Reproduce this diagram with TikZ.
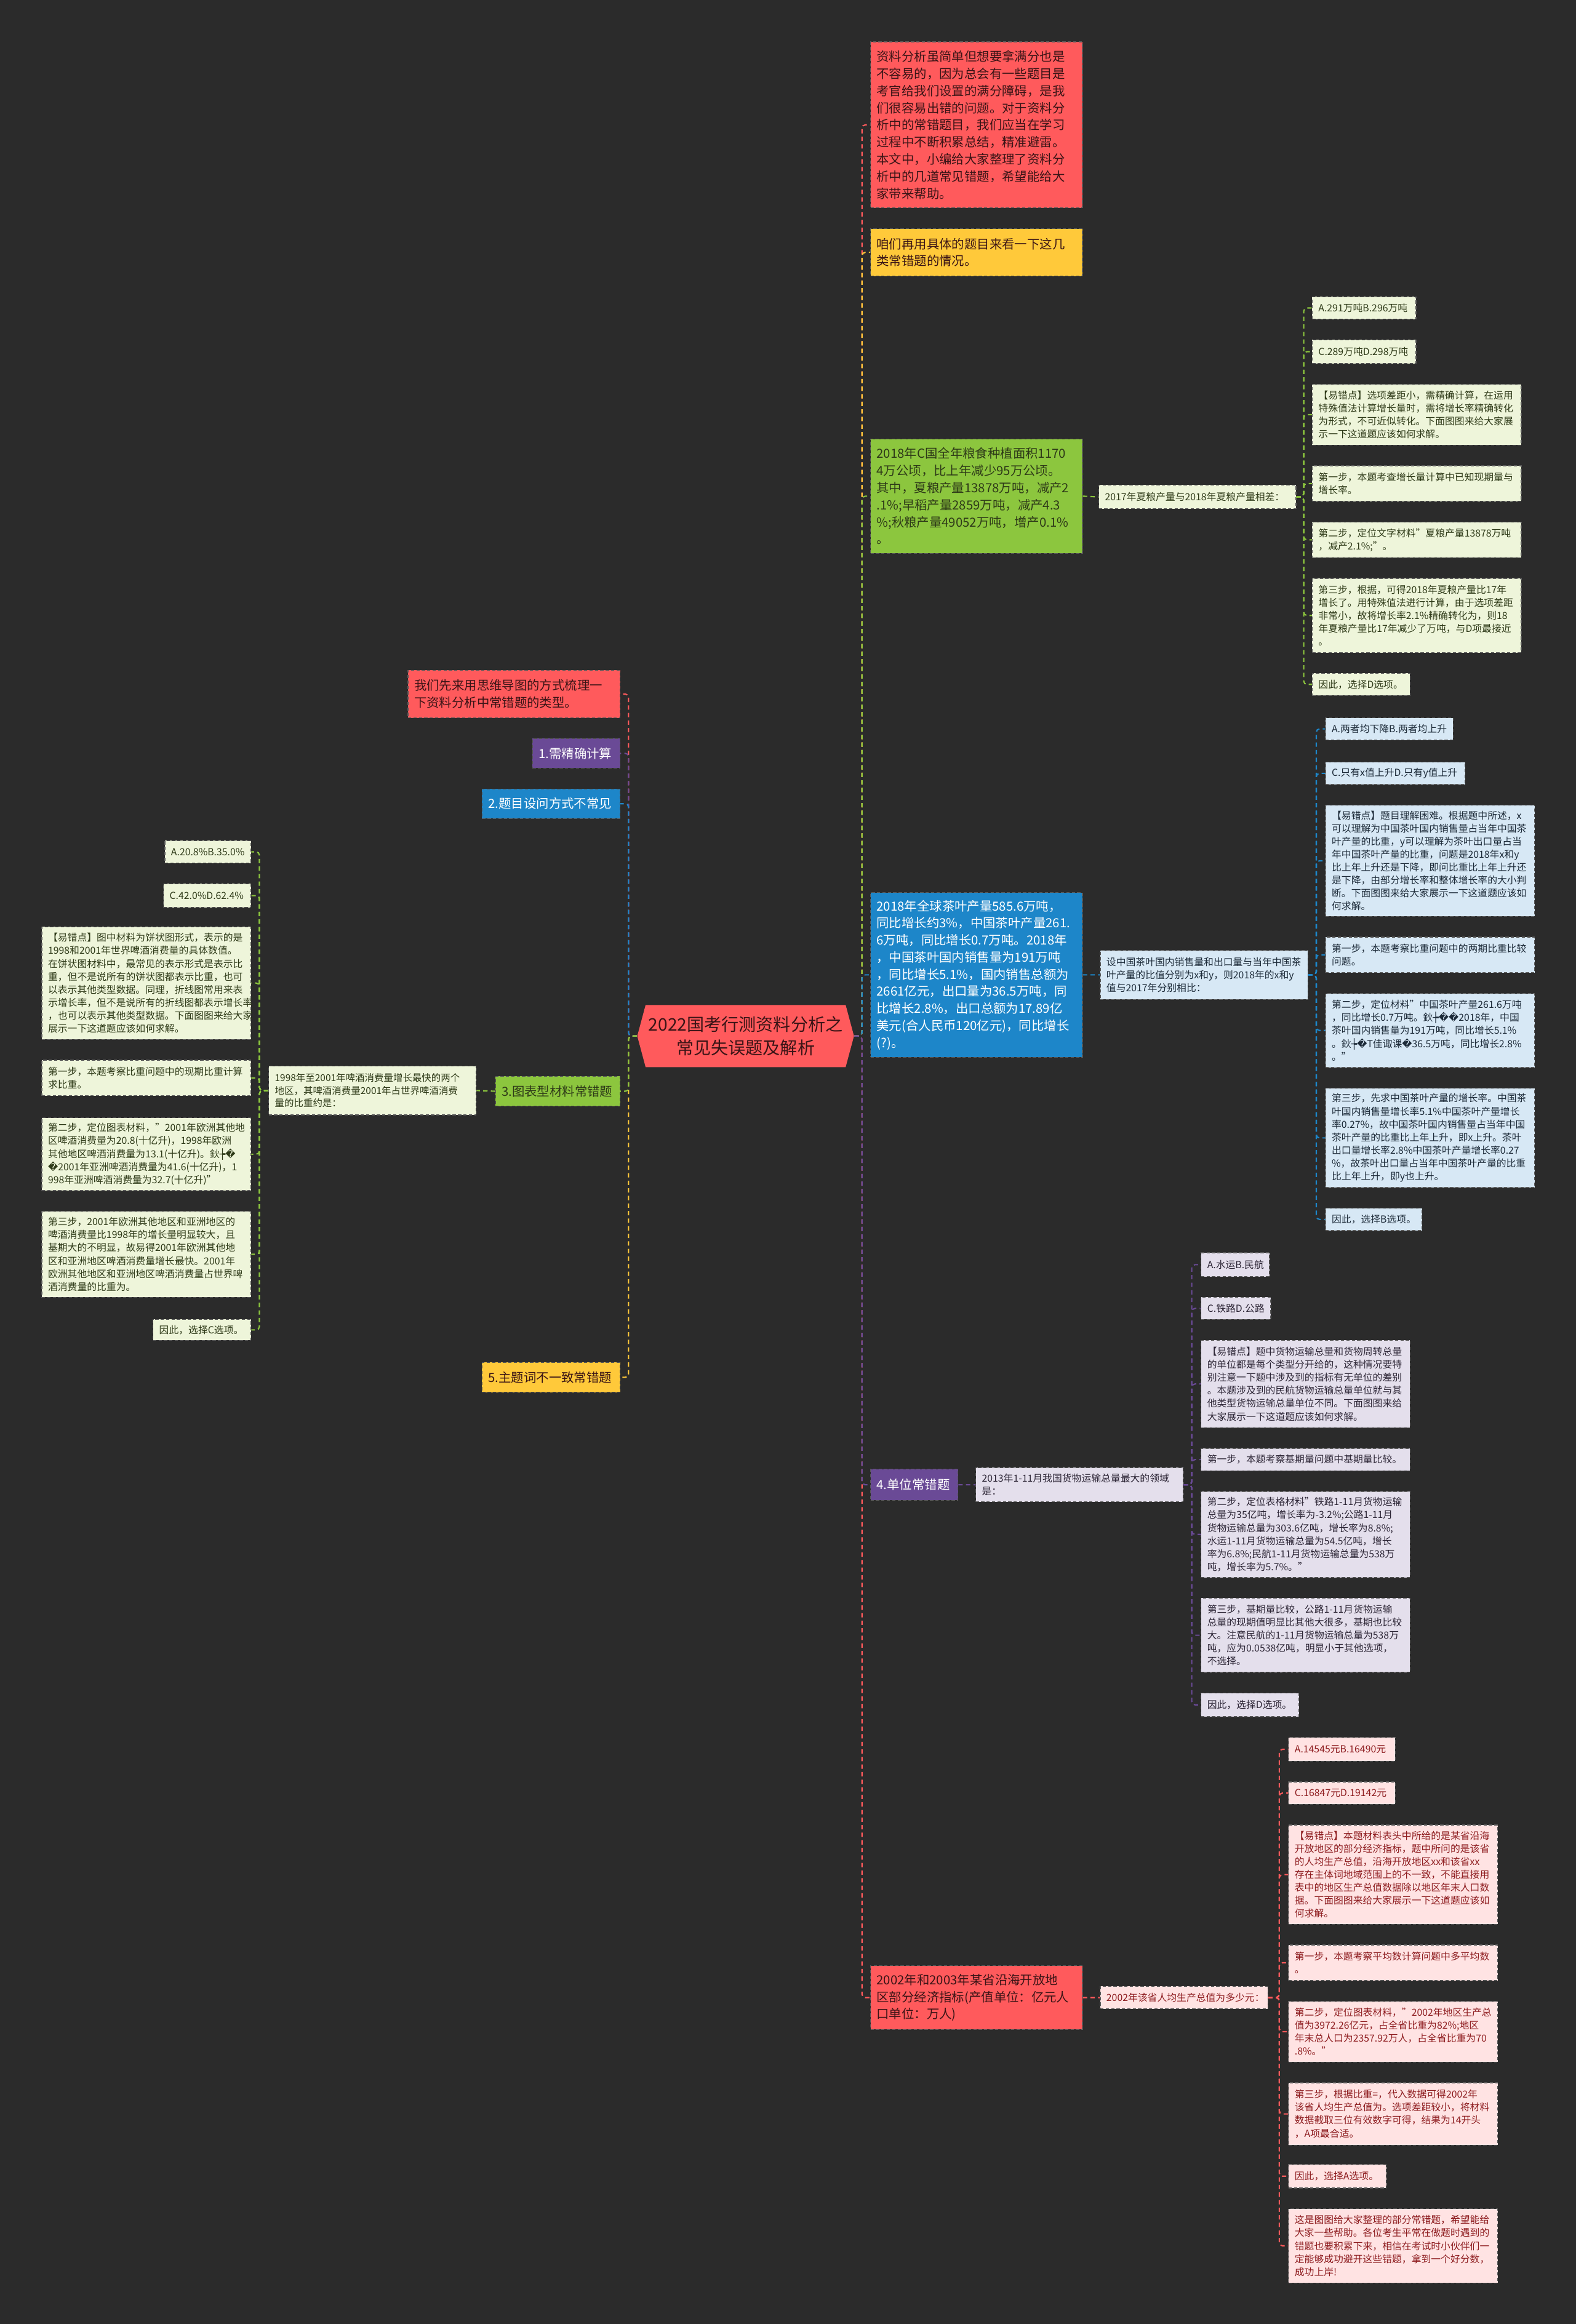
\documentclass[tikz,border=0pt]{standalone}
\usepackage{fontspec}
\setmainfont{Noto Sans CJK SC}
\newfontfamily\dejavu{DejaVu Sans}
\usetikzlibrary{shapes.symbols}
\definecolor{bgc}{HTML}{2B2B2B}
\definecolor{mred}{HTML}{FF5A5C}
\definecolor{myel}{HTML}{FFC93A}
\definecolor{mgrn}{HTML}{8CC63E}
\definecolor{mblu}{HTML}{1D86C9}
\definecolor{mpur}{HTML}{6A4A96}
\definecolor{lgrn}{HTML}{EEF5DA}
\definecolor{lblu}{HTML}{D7E8F5}
\definecolor{lpur}{HTML}{E4DFEC}
\definecolor{lred}{HTML}{FFE3E3}
\definecolor{tgrn}{HTML}{2E3A18}
\definecolor{tblu}{HTML}{1C2A38}
\definecolor{tpur}{HTML}{2C2535}
\definecolor{tred}{HTML}{8E1C1F}
\definecolor{tdrk}{HTML}{3A1416}
\newcommand\rpl{{\dejavu\symbol{"FFFD}}}
\newcommand\bxc{{\dejavu ┾}}

\begin{document}
\begin{tikzpicture}[x=0.02408cm,y=-0.02408cm,
    sz/.code 2 args={\pgfmathsetmacro\bxw{#1*0.02408-0.2}\pgfmathsetmacro\bxh{#2*0.02408}%
      \edef\bxtmp{\noexpand\pgfkeysalso{text width=\bxw cm,minimum height=\bxh cm}}\bxtmp}]
    \tikzstyle{bx}=[draw=black!65,line width=0.35pt,dash pattern=on 1.5pt off 1pt,anchor=north west,inner xsep=0.1cm,inner ysep=0pt,align=left]
    \tikzstyle{big}=[bx,font=\fontsize{5.8}{7.9}\selectfont]
    \tikzstyle{sm}=[bx,font=\fontsize{4.5}{6}\selectfont]
    \tikzstyle{ln}=[line width=0.6pt,dash pattern=on 2pt off 1.5pt,rounded corners=1.5pt]
    \tikzstyle{rl}=[ln,draw=mred]
    \tikzstyle{yl}=[ln,draw=myel]
    \tikzstyle{gl}=[ln,draw=mgrn]
    \tikzstyle{bl}=[ln,draw=mblu]
    \tikzstyle{pl}=[ln,draw=mpur]

    \fill[bgc] (0,0) rectangle (1063,1568);

    % centre
    \node[signal,signal to=east and west,signal pointer angle=150,fill=mred,text=tdrk,
      minimum width=3.52cm,minimum height=1.01cm,inner sep=0pt,align=center,
      font=\fontsize{8}{11}\selectfont] (c) at (503,699) {2022国考行测资料分析之\\常见失误题及解析};

    % right branches
    \node[big,fill=mred,text=tdrk,sz={143}{112}] (R0) at (587,28) {资料分析虽简单但想要拿满分也是\\不容易的，因为总会有一些题目是\\考官给我们设置的满分障碍，是我\\们很容易出错的问题。对于资料分\\析中的常错题目，我们应当在学习\\过程中不断积累总结，精准避雷。\\本文中，小编给大家整理了资料分\\析中的几道常见错题，希望能给大\\家带来帮助。};
    \node[big,fill=myel,text=tdrk,sz={143}{32}] (R1) at (587,154) {咱们再用具体的题目来看一下这几\\类常错题的情况。};
    \node[big,fill=mgrn,text=tgrn,sz={143}{77}] (R2) at (587,296) {2018年C国全年粮食种植面积1170\\4万公顷，比上年减少95万公顷。\\其中，夏粮产量13878万吨，减产2\\.1\%;早稻产量2859万吨，减产4.3\\\%;秋粮产量49052万吨，增产0.1\%\\。};
    \node[big,fill=mblu,text=white,sz={143}{111}] (R3) at (587,602) {2018年全球茶叶产量585.6万吨，\\同比增长约3\%，中国茶叶产量261.\\6万吨，同比增长0.7万吨。2018年\\，中国茶叶国内销售量为191万吨\\，同比增长5.1\%，国内销售总额为\\2661亿元，出口量为36.5万吨，同\\比增长2.8\%，出口总额为17.89亿\\美元(合人民币120亿元)，同比增长\\(?)。};
    \node[big,fill=mpur,text=white,sz={59}{21}] (R4) at (587,991) {4.单位常错题};
    \node[big,fill=mred,text=tdrk,sz={143}{43}] (R5) at (587,1326) {2002年和2003年某省沿海开放地\\区部分经济指标(产值单位：亿元人\\口单位：万人)};

    % green question
    \node[sm,fill=lgrn,text=tgrn,sz={133}{16}] (R2c) at (741,327) {2017年夏粮产量与2018年夏粮产量相差：};
    \node[sm,fill=lgrn,text=tgrn,sz={70}{15}] (g1) at (885,200) {A.291万吨B.296万吨};
    \node[sm,fill=lgrn,text=tgrn,sz={70}{16}] (g2) at (885,229) {C.289万吨D.298万吨};
    \node[sm,fill=lgrn,text=tgrn,sz={141}{41}] (g3) at (885,259) {【易错点】选项差距小，需精确计算，在运用\\特殊值法计算增长量时，需将增长率精确转化\\为形式，不可近似转化。下面图图来给大家展\\示一下这道题应该如何求解。};
    \node[sm,fill=lgrn,text=tgrn,sz={141}{24}] (g4) at (885,314) {第一步，本题考查增长量计算中已知现期量与\\增长率。};
    \node[sm,fill=lgrn,text=tgrn,sz={141}{24}] (g5) at (885,352) {第二步，定位文字材料"夏粮产量13878万吨\\，减产2.1\%;"。};
    \node[sm,fill=lgrn,text=tgrn,sz={141}{50}] (g6) at (885,390) {第三步，根据，可得2018年夏粮产量比17年\\增长了。用特殊值法进行计算，由于选项差距\\非常小，故将增长率2.1\%精确转化为，则18\\年夏粮产量比17年减少了万吨，与D项最接近\\。};
    \node[sm,fill=lgrn,text=tgrn,sz={66}{15}] (g7) at (885,454) {因此，选择D选项。};

    % blue question
    \node[sm,fill=lblu,text=tblu,sz={140}{33}] (R3c) at (742,641) {设中国茶叶国内销售量和出口量与当年中国茶\\叶产量的比值分别为x和y，则2018年的x和y\\值与2017年分别相比：};
    \node[sm,fill=lblu,text=tblu,sz={86}{15}] (b1) at (894,484) {A.两者均下降B.两者均上升};
    \node[sm,fill=lblu,text=tblu,sz={94}{15}] (b2) at (894,514) {C.只有x值上升D.只有y值上升};
    \node[sm,fill=lblu,text=tblu,sz={141}{75}] (b3) at (894,543) {【易错点】题目理解困难。根据题中所述，x\\可以理解为中国茶叶国内销售量占当年中国茶\\叶产量的比重，y可以理解为茶叶出口量占当\\年中国茶叶产量的比重，问题是2018年x和y\\比上年上升还是下降，即问比重比上年上升还\\是下降，由部分增长率和整体增长率的大小判\\断。下面图图来给大家展示一下这道题应该如\\何求解。};
    \node[sm,fill=lblu,text=tblu,sz={141}{24}] (b4) at (894,632) {第一步，本题考察比重问题中的两期比重比较\\问题。};
    \node[sm,fill=lblu,text=tblu,sz={141}{50}] (b5) at (894,670) {第二步，定位材料"中国茶叶产量261.6万吨\\，同比增长0.7万吨。鈥\bxc\rpl\rpl2018年，中国\\茶叶国内销售量为191万吨，同比增长5.1\%\\。鈥\bxc\rpl T佳诹课\rpl 36.5万吨，同比增长2.8\%\\。"};
    \node[sm,fill=lblu,text=tblu,sz={141}{67}] (b6) at (894,734) {第三步，先求中国茶叶产量的增长率。中国茶\\叶国内销售量增长率5.1\%中国茶叶产量增长\\率0.27\%，故中国茶叶国内销售量占当年中国\\茶叶产量的比重比上年上升，即x上升。茶叶\\出口量增长率2.8\%中国茶叶产量增长率0.27\\\%，故茶叶出口量占当年中国茶叶产量的比重\\比上年上升，即y也上升。};
    \node[sm,fill=lblu,text=tblu,sz={65}{15}] (b7) at (894,815) {因此，选择B选项。};

    % purple question
    \node[sm,fill=lpur,text=tpur,sz={140}{23}] (R4c) at (658,990) {2013年1-11月我国货物运输总量最大的领域\\是：};
    \node[sm,fill=lpur,text=tpur,sz={46}{16}] (p1) at (810,845) {A.水运B.民航};
    \node[sm,fill=lpur,text=tpur,sz={47}{15}] (p2) at (810,875) {C.铁路D.公路};
    \node[sm,fill=lpur,text=tpur,sz={141}{59}] (p3) at (810,904) {【易错点】题中货物运输总量和货物周转总量\\的单位都是每个类型分开给的，这种情况要特\\别注意一下题中涉及到的指标有无单位的差别\\。本题涉及到的民航货物运输总量单位就与其\\他类型货物运输总量单位不同。下面图图来给\\大家展示一下这道题应该如何求解。};
    \node[sm,fill=lpur,text=tpur,sz={141}{15}] (p4) at (810,977) {第一步，本题考察基期量问题中基期量比较。};
    \node[sm,fill=lpur,text=tpur,sz={141}{58}] (p5) at (810,1006) {第二步，定位表格材料"铁路1-11月货物运输\\总量为35亿吨，增长率为-3.2\%;公路1-11月\\货物运输总量为303.6亿吨，增长率为8.8\%;\\水运1-11月货物运输总量为54.5亿吨，增长\\率为6.8\%;民航1-11月货物运输总量为538万\\吨，增长率为5.7\%。"};
    \node[sm,fill=lpur,text=tpur,sz={141}{50}] (p6) at (810,1078) {第三步，基期量比较，公路1-11月货物运输\\总量的现期值明显比其他大很多，基期也比较\\大。注意民航的1-11月货物运输总量为538万\\吨，应为0.0538亿吨，明显小于其他选项，\\不选择。};
    \node[sm,fill=lpur,text=tpur,sz={66}{16}] (p7) at (810,1142) {因此，选择D选项。};

    % red question
    \node[sm,fill=lred,text=tred,sz={113}{15}] (R5c) at (742,1340) {2002年该省人均生产总值为多少元：};
    \node[sm,fill=lred,text=tred,sz={72}{16}] (r1) at (869,1172) {A.14545元B.16490元};
    \node[sm,fill=lred,text=tred,sz={72}{15}] (r2) at (869,1202) {C.16847元D.19142元};
    \node[sm,fill=lred,text=tred,sz={141}{67}] (r3) at (869,1231) {【易错点】本题材料表头中所给的是某省沿海\\开放地区的部分经济指标，题中所问的是该省\\的人均生产总值，沿海开放地区xx和该省xx\\存在主体词地域范围上的不一致，不能直接用\\表中的地区生产总值数据除以地区年末人口数\\据。下面图图来给大家展示一下这道题应该如\\何求解。};
    \node[sm,fill=lred,text=tred,sz={141}{24}] (r4) at (869,1312) {第一步，本题考察平均数计算问题中多平均数\\。};
    \node[sm,fill=lred,text=tred,sz={141}{41}] (r5) at (869,1350) {第二步，定位图表材料，"2002年地区生产总\\值为3972.26亿元，占全省比重为82\%;地区\\年末总人口为2357.92万人，占全省比重为70\\.8\%。"};
    \node[sm,fill=lred,text=tred,sz={141}{42}] (r6) at (869,1405) {第三步，根据比重=，代入数据可得2002年\\该省人均生产总值为。选项差距较小，将材料\\数据截取三位有效数字可得，结果为14开头\\，A项最合适。};
    \node[sm,fill=lred,text=tred,sz={66}{16}] (r7) at (869,1460) {因此，选择A选项。};
    \node[sm,fill=lred,text=tred,sz={141}{50}] (r8) at (869,1490) {这是图图给大家整理的部分常错题，希望能给\\大家一些帮助。各位考生平常在做题时遇到的\\错题也要积累下来，相信在考试时小伙伴们一\\定能够成功避开这些错题，拿到一个好分数，\\成功上岸!};

    % left branches
    \node[big,fill=mred,text=tdrk,sz={143}{32}] (L0) at (275,452) {我们先来用思维导图的方式梳理一\\下资料分析中常错题的类型。};
    \node[big,fill=mpur,text=white,sz={59}{20}] (L1) at (359,498) {1.需精确计算};
    \node[big,fill=mblu,text=white,sz={93}{20}] (L2) at (325,532) {2.题目设问方式不常见};
    \node[big,fill=mgrn,text=tgrn,sz={84}{20}] (L3) at (334,726) {3.图表型材料常错题};
    \node[big,fill=myel,text=tdrk,sz={93}{20}] (L5) at (325,919) {5.主题词不一致常错题};

    \node[sm,fill=lgrn,text=tgrn,sz={140}{33},font=\fontsize{4.4}{5.8}\selectfont] (L3c) at (181,719) {1998年至2001年啤酒消费量增长最快的两个\\地区，其啤酒消费量2001年占世界啤酒消费\\量的比重约是：};
    \node[sm,fill=lgrn,text=tgrn,sz={58}{15}] (k1) at (111,567) {A.20.8\%B.35.0\%};
    \node[sm,fill=lgrn,text=tgrn,sz={59}{16}] (k2) at (110,596) {C.42.0\%D.62.4\%};
    \node[sm,fill=lgrn,text=tgrn,sz={141}{76}] (k3) at (28,625) {【易错点】图中材料为饼状图形式，表示的是\\1998和2001年世界啤酒消费量的具体数值。\\在饼状图材料中，最常见的表示形式是表示比\\重，但不是说所有的饼状图都表示比重，也可\\以表示其他类型数据。同理，折线图常用来表\\示增长率，但不是说所有的折线图都表示增长率\\，也可以表示其他类型数据。下面图图来给大家\\展示一下这道题应该如何求解。};
    \node[sm,fill=lgrn,text=tgrn,sz={141}{24}] (k4) at (28,715) {第一步，本题考察比重问题中的现期比重计算\\求比重。};
    \node[sm,fill=lgrn,text=tgrn,sz={141}{49}] (k5) at (28,754) {第二步，定位图表材料，"2001年欧洲其他地\\区啤酒消费量为20.8(十亿升)，1998年欧洲\\其他地区啤酒消费量为13.1(十亿升)。鈥\bxc\rpl\\\rpl 2001年亚洲啤酒消费量为41.6(十亿升)，1\\998年亚洲啤酒消费量为32.7(十亿升)"};
    \node[sm,fill=lgrn,text=tgrn,sz={141}{58}] (k6) at (28,817) {第三步，2001年欧洲其他地区和亚洲地区的\\啤酒消费量比1998年的增长量明显较大，且\\基期大的不明显，故易得2001年欧洲其他地\\区和亚洲地区啤酒消费量增长最快。2001年\\欧洲其他地区和亚洲地区啤酒消费量占世界啤\\酒消费量的比重为。};
    \node[sm,fill=lgrn,text=tgrn,sz={66}{14}] (k7) at (103,890) {因此，选择C选项。};

    % connectors
    \coordinate (rs) at (581.5,0);
    \coordinate (ls) at (424,0);
    \foreach \n/\s in {R0/rl,R1/yl,R2/gl,R3/bl,R5/rl,R4/pl}
      \draw[\s] (c.east) -| (rs |- \n.west) -- (\n.west);
    \foreach \n/\s in {L0/rl,L1/pl,L2/bl,L5/yl,L3/gl}
      \draw[\s] (c.west) -| (ls |- \n.east) -- (\n.east);

    \draw[gl] (R2.east) -- (R2c.west);
    \draw[bl] (R3.east) -- (R3c.west);
    \draw[pl] (R4.east) -- (R4c.west);
    \draw[rl] (R5.east) -- (R5c.west);
    \draw[gl] (L3.west) -- (L3c.east);

    \coordinate (gs) at (879.5,0);
    \coordinate (bs) at (888,0);
    \coordinate (ps) at (804,0);
    \coordinate (qs) at (863,0);
    \coordinate (ks) at (175,0);
    \foreach \i in {1,...,7} {
      \draw[gl] (R2c.east) -| (gs |- g\i.west) -- (g\i.west);
      \draw[bl] (R3c.east) -| (bs |- b\i.west) -- (b\i.west);
      \draw[pl] (R4c.east) -| (ps |- p\i.west) -- (p\i.west);
      \draw[gl] (L3c.west) -| (ks |- k\i.east) -- (k\i.east);
    }
    \foreach \i in {1,...,8}
      \draw[rl] (R5c.east) -| (qs |- r\i.west) -- (r\i.west);
\end{tikzpicture}
\end{document}
